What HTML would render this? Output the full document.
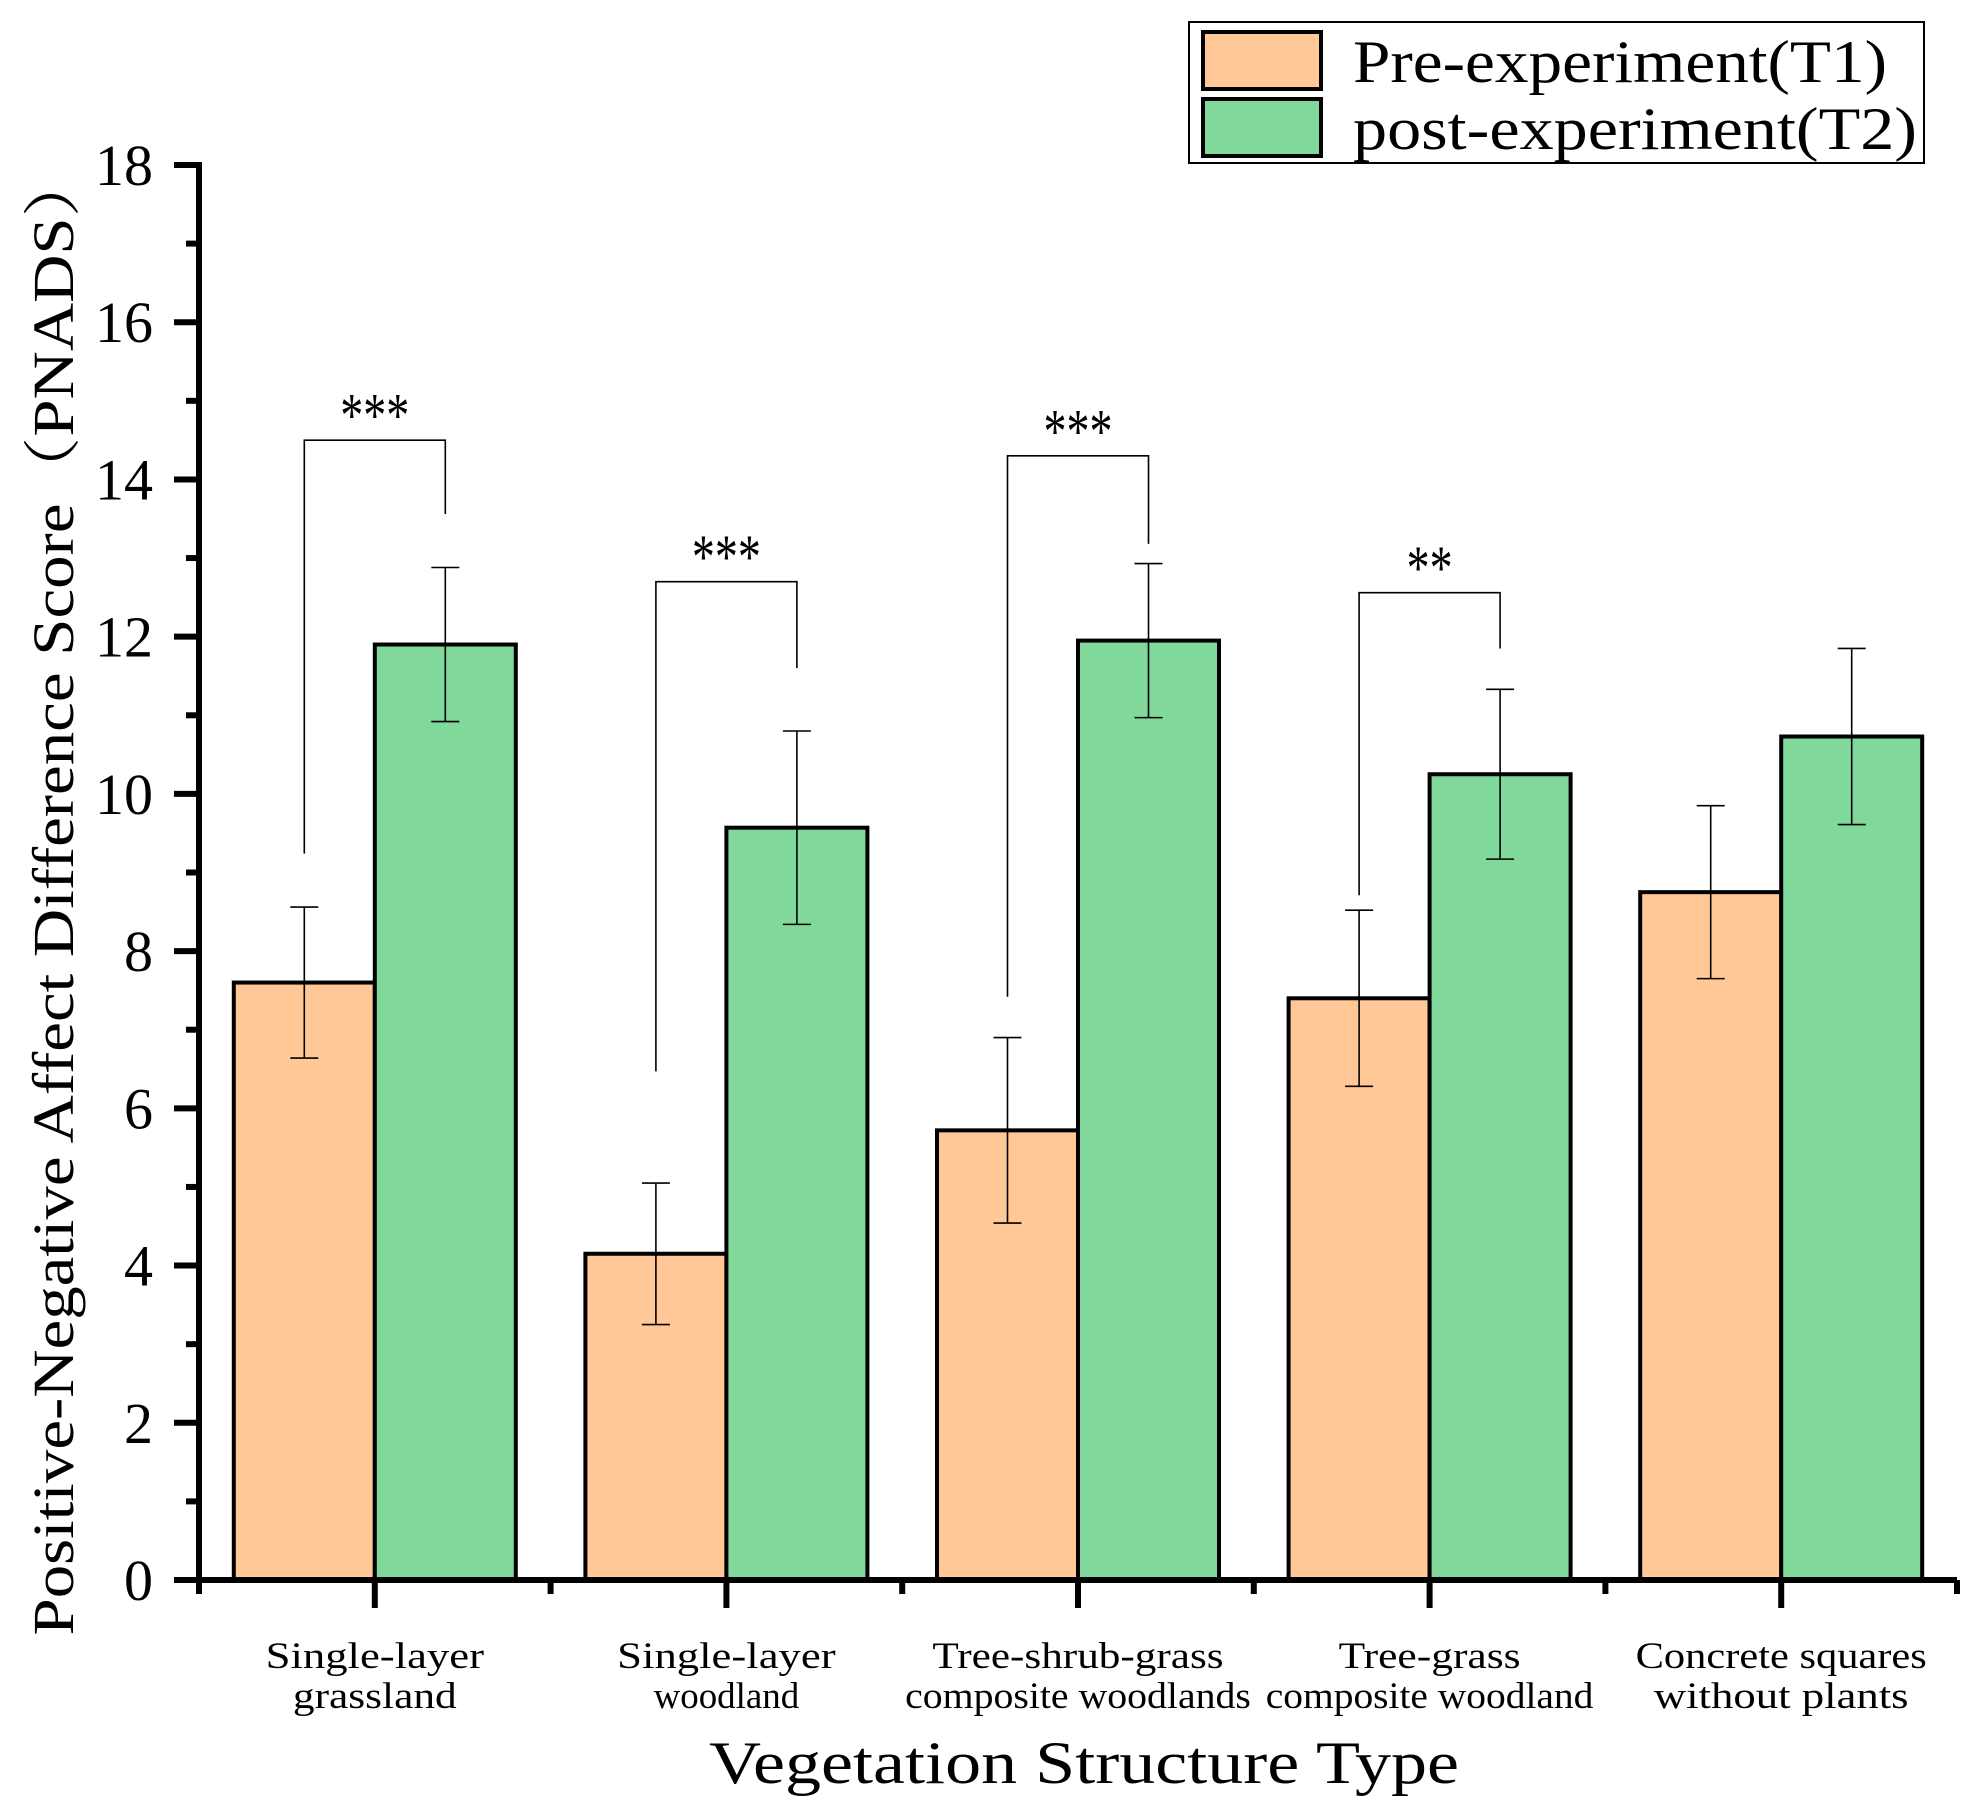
<!DOCTYPE html>
<html><head><meta charset="utf-8"><style>
html,body{margin:0;padding:0;background:#fff;}
svg{display:block;}
text{font-family:"Liberation Serif","Noto Serif CJK SC",serif;fill:#000;}
</style></head><body>
<svg id="chart" width="1976" height="1804" viewBox="0 0 1976 1804" xmlns="http://www.w3.org/2000/svg"></svg>
<script>
const categories = [["Single-layer","grassland"],["Single-layer","woodland"],["Tree-shrub-grass","composite woodlands"],["Tree-grass","composite woodland"],["Concrete squares","without plants"]];
const seriesNames = ["Pre-experiment(T1)","post-experiment(T2)"];
const t1Values = [7.6, 4.15, 5.72, 7.4, 8.75];
const t2Values = [11.9, 9.57, 11.95, 10.25, 10.73];
const t1Errors = [0.96, 0.9, 1.18, 1.12, 1.1];
const t2Errors = [0.98, 1.23, 0.98, 1.08, 1.12];
const yTicks = [0,2,4,6,8,10,12,14,16,18];
const sigGroups = [0,1,2,3];
const sigLabels = ["***","***","***","**"];
const sigTop = [14.5, 12.7, 14.3, 12.56];
const sigLeftEnd = [9.24, 6.47, 7.42, 8.71];
const sigRightEnd = [13.56, 11.6, 13.18, 11.85];

const NS="http://www.w3.org/2000/svg";
const svg=document.getElementById('chart');
const X0=199, SP=351.6, BW=141, Y0=1580, YU=(1580-165)/18;
const y=v=>Y0-v*YU;
const cx=i=>X0+SP*(i+0.5);
function mk(tag,attrs,parent){const e=document.createElementNS(NS,tag);for(const k in attrs)e.setAttribute(k,attrs[k]);(parent||svg).appendChild(e);return e;}
const colors=["#FFC896","#80D89A"];

[t1Values,t2Values].forEach((vals,s)=>{
  vals.forEach((v,i)=>{
    const x=s===0?cx(i)-BW:cx(i);
    const r=mk('rect',{x:x,y:y(v),width:BW,height:Y0-y(v),fill:colors[s],stroke:'#000','stroke-width':4});
    
    
  });
});
[[t1Values,t1Errors],[t2Values,t2Errors]].forEach(([vals,errs],s)=>{
  vals.forEach((v,i)=>{
    const x=s===0?cx(i)-BW/2:cx(i)+BW/2;
    const g=mk('g',{stroke:'#000','stroke-width':1.6});
    
    
    mk('line',{x1:x,x2:x,y1:y(v-errs[i]),y2:y(v+errs[i])},g);
    mk('line',{x1:x-14,x2:x+14,y1:y(v+errs[i]),y2:y(v+errs[i])},g);
    mk('line',{x1:x-14,x2:x+14,y1:y(v-errs[i]),y2:y(v-errs[i])},g);
  });
});
sigGroups.forEach((gi,k)=>{
  const xl=cx(gi)-BW/2, xr=cx(gi)+BW/2;
  const p=mk('polyline',{points:`${xl},${y(sigLeftEnd[k])} ${xl},${y(sigTop[k])} ${xr},${y(sigTop[k])} ${xr},${y(sigRightEnd[k])}`,fill:'none',stroke:'#000','stroke-width':1.6});
  
  
  const t=mk('text',{x:(xl+xr)/2,y:y(sigTop[k])-4,'text-anchor':'middle','font-size':62,'font-family':'Liberation Mono, monospace',textLength:sigLabels[k].length*23,lengthAdjust:'spacingAndGlyphs'});
  t.textContent=sigLabels[k];
  
  
});
const ax=mk('g',{stroke:'#000','stroke-width':6});


mk('line',{x1:X0,x2:X0,y1:y(18)-3,y2:Y0+3},ax);
mk('line',{x1:X0-25,x2:X0+SP*5,y1:Y0,y2:Y0},ax);
for(let v=0;v<=18;v++){const len=v%2===0?25:13;mk('line',{x1:X0-len,x2:X0,y1:y(v),y2:y(v)},ax);}
for(let i=0;i<5;i++){mk('line',{x1:cx(i),x2:cx(i),y1:Y0,y2:Y0+28},ax);}
for(let i=0;i<=5;i++){mk('line',{x1:X0+SP*i,x2:X0+SP*i,y1:Y0,y2:Y0+14},ax);}
yTicks.forEach(v=>{
  const t=mk('text',{x:153,y:y(v)+20,'text-anchor':'end','font-size':58});
  t.textContent=v;
  
  
});
categories.forEach((lines,i)=>{
  lines.forEach((ln,j)=>{
    const t=mk('text',{x:cx(i),y:1668+j*40,'text-anchor':'middle','font-size':37,textLength:ln.length*18.2,lengthAdjust:'spacingAndGlyphs'});
    t.textContent=ln;
    
    
  });
});
const xt=mk('text',{x:1084,y:1783,'text-anchor':'middle','font-size':60,textLength:750,lengthAdjust:'spacingAndGlyphs'});
xt.textContent="Vegetation Structure Type";


const yt=mk('text',{x:0,y:0,'text-anchor':'middle','font-size':58,textLength:1485,lengthAdjust:'spacingAndGlyphs',transform:'translate(73,893) rotate(-90)'});
yt.textContent="Positive-Negative Affect Difference Score（PNADS）";


const lg=mk('g',{});


mk('rect',{x:1189,y:22,width:735,height:141,fill:'#fff',stroke:'#000','stroke-width':2},lg);
const lgW=[534,564];
seriesNames.forEach((n,s)=>{
  const e=mk('g',{},lg);
  
  
  mk('rect',{x:1203,y:32+s*67,width:118,height:57,fill:colors[s],stroke:'#000','stroke-width':4},e);
  const t=mk('text',{x:1353,y:82+s*67,'font-size':60,textLength:lgW[s],lengthAdjust:'spacingAndGlyphs'},e);
  t.textContent=n;
});
</script>
</body></html>
